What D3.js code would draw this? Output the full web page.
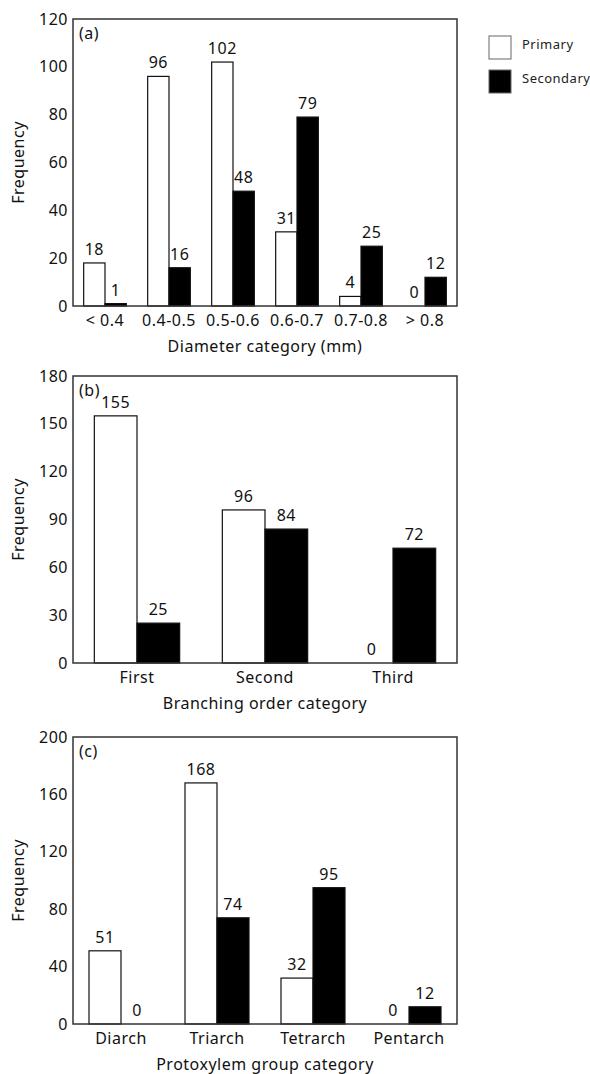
<!DOCTYPE html>
<html>
<head>
<meta charset="utf-8">
<script src="https://cdn.jsdelivr.net/npm/d3@7"></script>
<style>
  body { margin: 0; background: #fff; }
  svg { display: block; font-family: 'Noto Sans', 'DejaVu Sans', sans-serif; letter-spacing: 0.5px; }
</style>
</head>
<body>
<svg id="chart" width="590" height="1074"></svg>
<script>
  // Panel (a)
  const diameterCats = ['< 0.4', '0.4-0.5', '0.5-0.6', '0.6-0.7', '0.7-0.8', '> 0.8'];
  const diameterPrimary = [18, 96, 102, 31, 4, 0];
  const diameterSecondary = [1, 16, 48, 79, 25, 12];
  const diameterTicks = [0, 20, 40, 60, 80, 100, 120];

  // Panel (b)
  const branchCats = ['First', 'Second', 'Third'];
  const branchPrimary = [155, 96, 0];
  const branchSecondary = [25, 84, 72];
  const branchTicks = [0, 30, 60, 90, 120, 150, 180];

  // Panel (c)
  const protoCats = ['Diarch', 'Triarch', 'Tetrarch', 'Pentarch'];
  const protoPrimary = [51, 168, 32, 0];
  const protoSecondary = [0, 74, 95, 12];
  const protoTicks = [0, 40, 80, 120, 160, 200];

  const seriesNames = ['Primary', 'Secondary'];

  const svg = d3.select('#chart');
  const left = 73, plotW = 384, plotH = 287;

  function drawPanel(top, tag, cats, prim, sec, ticks, title) {
    const g = svg.append('g').attr('transform', `translate(${left},${top})`);

    const x = d3.scaleBand().domain(cats).range([0, plotW]);
    const inner = d3.scaleBand().domain(seriesNames)
      .range([x.bandwidth() / 6, x.bandwidth() * 5 / 6]);
    const y = d3.scaleLinear().domain([0, d3.max(ticks)]).range([plotH, 0]);

    // bars + value labels
    const rows = cats.map((c, i) => ({ cat: c, vals: [prim[i], sec[i]] }));
    rows.forEach(r => {
      r.vals.forEach((v, k) => {
        const bx = x(r.cat) + inner(seriesNames[k]);
        if (v > 0) {
          g.append('rect')
            .attr('x', bx).attr('y', y(v))
            .attr('width', inner.bandwidth()).attr('height', plotH - y(v))
            .attr('fill', k === 0 ? '#fff' : '#000')
            .attr('stroke', '#111')
            .attr('stroke-width', 1.2);
        }
        g.append('text')
          .attr('x', bx + inner.bandwidth() / 2)
          .attr('y', y(v) - 8)
          .attr('text-anchor', 'middle')
          .attr('font-size', '16px')
          .attr('fill', '#111')
          .text(v);
      });
    });

    // frame
    g.append('rect')
      .attr('x', 0).attr('y', 0).attr('width', plotW).attr('height', plotH)
      .attr('fill', 'none').attr('stroke', '#333').attr('stroke-width', 1.5);

    // y axis
    g.append('g')
      .call(d3.axisLeft(y).tickValues(ticks).tickSize(0).tickPadding(5))
      .call(a => a.select('.domain').remove())
      .call(a => a.selectAll('text').attr('font-size', '16px').attr('fill', '#111')
        .attr('font-family', "'Noto Sans', sans-serif"));

    // x axis
    g.append('g')
      .attr('transform', `translate(0,${plotH})`)
      .call(d3.axisBottom(x).tickSize(0).tickPadding(9))
      .call(a => a.select('.domain').remove())
      .call(a => a.selectAll('text').attr('font-size', '16px').attr('fill', '#111')
        .attr('font-family', "'Noto Sans', sans-serif"));

    g.append('text')
      .attr('x', plotW / 2).attr('y', plotH + 46)
      .attr('text-anchor', 'middle').attr('font-size', '16px').attr('fill', '#111')
      .text(title);

    g.append('text')
      .attr('transform', 'rotate(-90)')
      .attr('x', -plotH / 2).attr('y', -49)
      .attr('text-anchor', 'middle').attr('font-size', '16px').attr('fill', '#111')
      .text('Frequency');

    g.append('text')
      .attr('x', 6).attr('y', 20)
      .attr('font-size', '16px').attr('fill', '#111')
      .text(tag);
  }

  drawPanel(19, '(a)', diameterCats, diameterPrimary, diameterSecondary, diameterTicks, 'Diameter category (mm)');
  drawPanel(376, '(b)', branchCats, branchPrimary, branchSecondary, branchTicks, 'Branching order category');
  drawPanel(737, '(c)', protoCats, protoPrimary, protoSecondary, protoTicks, 'Protoxylem group category');

  // legend
  const legend = svg.append('g').attr('transform', 'translate(489,36)');
  seriesNames.forEach((name, i) => {
    legend.append('rect')
      .attr('x', 0).attr('y', i * 34)
      .attr('width', 22).attr('height', 23)
      .attr('fill', i === 0 ? '#fff' : '#000')
      .attr('stroke', '#666').attr('stroke-width', 1);
    legend.append('text')
      .attr('x', 33).attr('y', i * 34 + 8)
      .attr('dy', '0.35em')
      .attr('font-size', '13px').attr('fill', '#222')
      .text(name);
  });
</script>
</body>
</html>
